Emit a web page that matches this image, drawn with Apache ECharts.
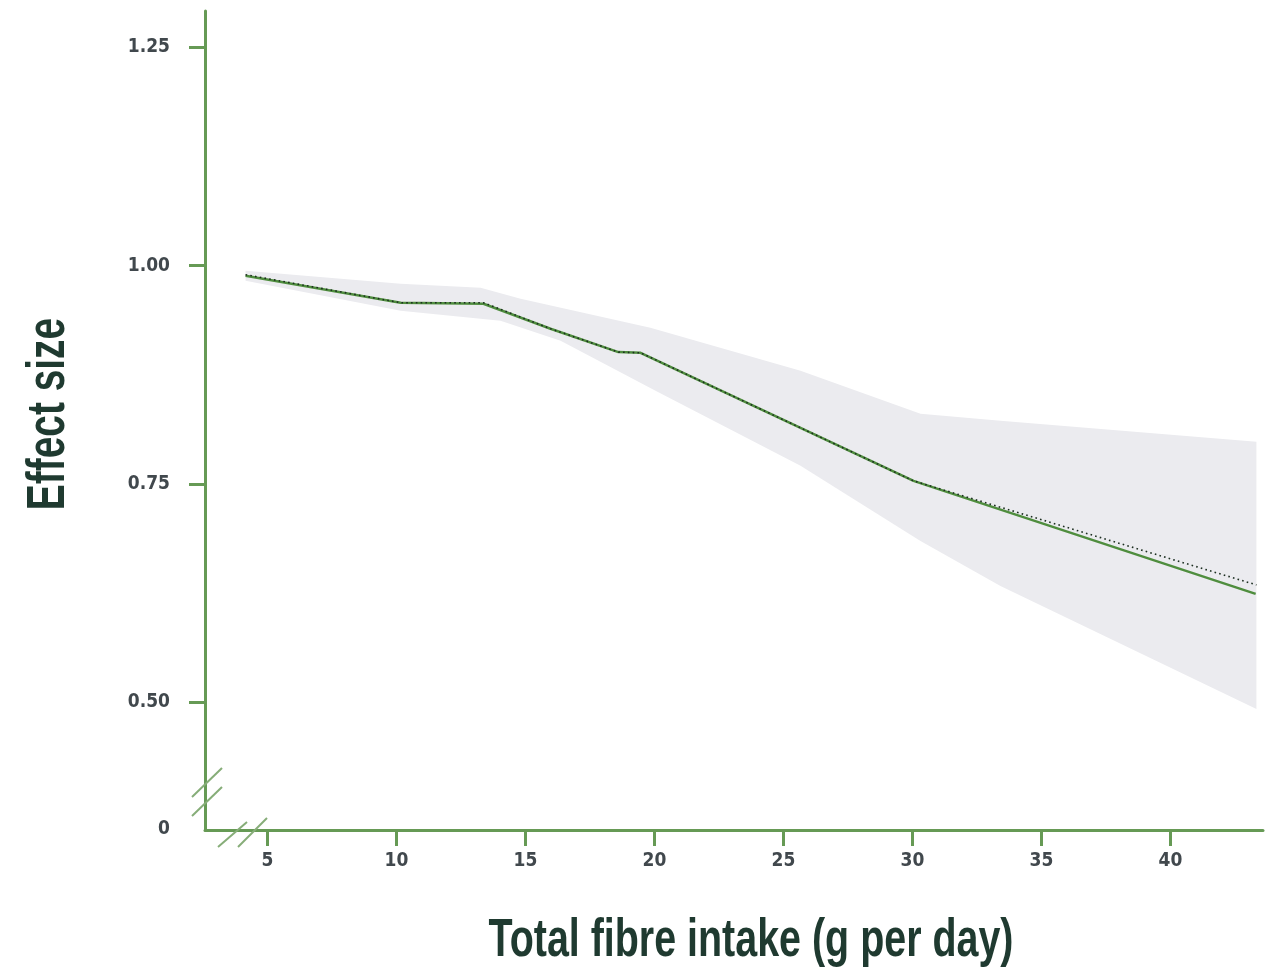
<!DOCTYPE html>
<html>
<head>
<meta charset="utf-8">
<script src="https://cdn.jsdelivr.net/npm/echarts@6/dist/echarts.min.js"></script>
<style>html,body{margin:0;padding:0;background:#fff;}#c{width:1273px;height:971px;}</style>
</head>
<body>
<div id="c"></div>
<script>
// ---- data ----
var xTicks = [5, 10, 15, 20, 25, 30, 35, 40];
var yTicks = [0.5, 0.75, 1.0, 1.25];
var yBreakZero = 0.3545;           // where the broken axis shows "0"
var xTitle = 'Total fibre intake (g per day)';
var yTitle = 'Effect size';

// fitted curve (solid green)
var curveX = [4.15, 10.16, 13.37, 15.97, 18.6, 19.46, 30.04, 43.3];
var curveY = [0.9885, 0.9576, 0.9564, 0.9278, 0.9010, 0.9002, 0.7534, 0.6239];

// reference line (dotted)
var dotX = [4.15, 10.16, 13.37, 15.97, 18.6, 19.46, 30.04, 43.33];
var dotY = [0.9897, 0.9576, 0.9576, 0.9278, 0.9010, 0.9002, 0.7534, 0.6342];

// confidence band
var upperX = [4.15, 10.16, 13.26, 14.81, 19.84, 25.66, 30.31, 33.41, 43.33];
var upperY = [0.9943, 0.9794, 0.9748, 0.9622, 0.9289, 0.8796, 0.8303, 0.8222, 0.7982];
var lowerX = [4.15, 10.16, 14.03, 16.36, 20.04, 25.66, 30.31, 33.41, 43.33];
var lowerY = [0.9828, 0.9484, 0.9369, 0.9140, 0.8567, 0.7706, 0.6846, 0.6330, 0.4920];

function zip(a, b) { return a.map(function (v, i) { return [v, b[i]]; }); }

var axisGreen = '#669a55';
var lineGreen = '#4f8d3e';
var labelColor = '#41484d';
var titleColor = '#1f3a30';
var labelFont = '"DejaVu Sans Condensed", "Liberation Sans", sans-serif';

var chart = echarts.init(document.getElementById('c'), null, {renderer: 'canvas'});
chart.setOption({
  animation: false,
  backgroundColor: '#ffffff',
  grid: {left: 205, right: 10, top: 11, bottom: 141, outerBoundsMode: 'none'},
  xAxis: {
    type: 'value', min: 2.578, max: 43.585,
    splitLine: {show: false},
    axisLine: {show: true, lineStyle: {color: axisGreen, width: 3}},
    axisTick: {show: true, length: 16, customValues: xTicks, lineStyle: {color: axisGreen, width: 3}},
    axisLabel: {
      customValues: xTicks, margin: 22, color: labelColor,
      fontFamily: labelFont, fontWeight: 'bold', fontSize: 19
    }
  },
  yAxis: {
    type: 'value', min: 0.3533, max: 1.2919,
    splitLine: {show: false},
    axisLine: {show: true, lineStyle: {color: axisGreen, width: 3}},
    axisTick: {show: true, length: 16, customValues: yTicks, lineStyle: {color: axisGreen, width: 3}},
    axisLabel: {
      customValues: [yBreakZero].concat(yTicks), margin: 35, color: labelColor,
      fontFamily: labelFont, fontWeight: 'bold', fontSize: 19,
      formatter: function (v) { return v < 0.4 ? '0' : v.toFixed(2); }
    }
  },
  series: [
    {
      type: 'custom', silent: true, z: 1,
      data: [[upperX[0], upperY[0]]],
      renderItem: function (params, api) {
        var pts = [];
        for (var i = 0; i < upperX.length; i++) pts.push(api.coord([upperX[i], upperY[i]]));
        for (var j = lowerX.length - 1; j >= 0; j--) pts.push(api.coord([lowerX[j], lowerY[j]]));
        return {type: 'polygon', shape: {points: pts}, style: {fill: '#ebebef'}};
      }
    },
    {
      type: 'line', z: 3, showSymbol: false, silent: true,
      data: zip(curveX, curveY),
      lineStyle: {color: lineGreen, width: 2.5}
    },
    {
      type: 'line', z: 4, showSymbol: false, silent: true,
      data: zip(dotX, dotY),
      lineStyle: {color: '#1c2e20', width: 1.6, type: [1.6, 3.2]}
    }
  ],
  graphic: [
    // axis break marks
    {type: 'line', shape: {x1: 192, y1: 797, x2: 222, y2: 768}, style: {stroke: '#86ad78', lineWidth: 2}, z: 10},
    {type: 'line', shape: {x1: 192, y1: 816, x2: 222, y2: 787}, style: {stroke: '#86ad78', lineWidth: 2}, z: 10},
    {type: 'line', shape: {x1: 218, y1: 847, x2: 247, y2: 822}, style: {stroke: '#86ad78', lineWidth: 2}, z: 10},
    {type: 'line', shape: {x1: 238, y1: 847, x2: 267, y2: 818}, style: {stroke: '#86ad78', lineWidth: 2}, z: 10},
    // axis titles
    {
      type: 'text', x: 751, y: 941, scaleX: 0.73,
      style: {text: xTitle, fill: titleColor, font: 'bold 54px "Liberation Sans", sans-serif', textAlign: 'center', textVerticalAlign: 'middle'}
    },
    {
      type: 'text', x: 49, y: 414, rotation: Math.PI / 2, scaleX: 0.72,
      style: {text: yTitle, fill: titleColor, font: 'bold 54px "Liberation Sans", sans-serif', textAlign: 'center', textVerticalAlign: 'middle'}
    }
  ]
});
</script>
</body>
</html>
